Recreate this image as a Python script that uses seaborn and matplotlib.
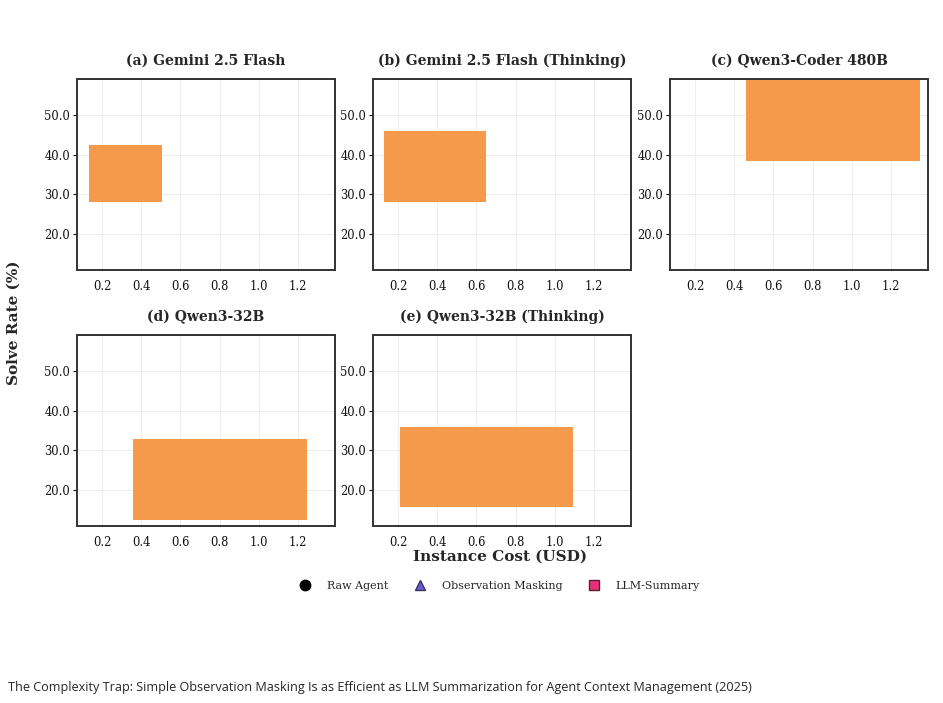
import seaborn as sns
import matplotlib.pyplot as plt
from matplotlib.lines import Line2D

# panel titles
titles = ['(a) Gemini 2.5 Flash', '(b) Gemini 2.5 Flash (Thinking)', '(c) Qwen3-Coder 480B',
          '(d) Qwen3-32B', '(e) Qwen3-32B (Thinking)']

# shaded region per model: cost range and solve-rate range
cost_lo = [0.134, 0.127, 0.46, 0.36, 0.21]
cost_hi = [0.506, 0.651, 1.346, 1.245, 1.095]
rate_lo = [28.2, 28.2, 38.3, 12.6, 15.7]
rate_hi = [42.5, 45.9, 60.0, 32.9, 35.9]

x_ticks = [0.2, 0.4, 0.6, 0.8, 1.0, 1.2]
y_ticks = [20, 30, 40, 50]

legend_labels = ['Raw Agent', 'Observation Masking', 'LLM-Summary']

sns.set_style('whitegrid')
plt.rcParams['font.family'] = ['DejaVu Serif']

fig = plt.figure(figsize=(9.43, 7.03), dpi=100)
W, H = 943, 703
# axes boxes in pixels: left, top
boxes = [(77, 79), (373, 79), (670, 79), (77, 335), (373, 335)]
aw, ah = 258, 191

for i, (l, t) in enumerate(boxes):
    ax = fig.add_axes([l / W, 1 - (t + ah) / H, aw / W, ah / H])
    ax.bar(cost_lo[i], rate_hi[i] - rate_lo[i], bottom=rate_lo[i],
           width=cost_hi[i] - cost_lo[i], align='edge', color='#f5994a',
           linewidth=0, zorder=2)
    ax.set_xlim(0.072, 1.389)
    ax.set_ylim(11, 59)
    ax.set_xticks(x_ticks)
    ax.set_yticks(y_ticks)
    ax.set_xticklabels([f'{v:.1f}' for v in x_ticks])
    ax.set_yticklabels([f'{v:.1f}' for v in y_ticks])
    ax.tick_params(labelsize=8.3, colors='#111111', length=3, width=0.8,
                   left=True, bottom=False, pad=2)
    ax.tick_params(axis='x', pad=4)
    ax.grid(True, color='#ebebeb', linewidth=0.6, zorder=0)
    for s in ax.spines.values():
        s.set_color('#333333')
        s.set_linewidth(1.4)
    ax.set_title(titles[i], fontsize=10, fontweight='bold', pad=10)

fig.text(500 / W, 1 - 557 / H, 'Instance Cost (USD)', ha='center', va='center',
         fontsize=11, fontweight='bold')
fig.text(14 / W, 1 - 323 / H, 'Solve Rate (%)', ha='center', va='center',
         rotation=90, fontsize=11, fontweight='bold')

handles = [
    Line2D([], [], marker='o', linestyle='', color='black', markersize=7.5),
    Line2D([], [], marker='^', linestyle='', markerfacecolor='#6a5acd',
           markeredgecolor='#333366', markersize=7.5),
    Line2D([], [], marker='s', linestyle='', markerfacecolor='#e8307a',
           markeredgecolor='#552233', markersize=7.5),
]
fig.legend(handles, legend_labels, loc='center', bbox_to_anchor=(497 / W, 1 - 586 / H),
           ncol=3, frameon=False, fontsize=8, handletextpad=1.0, columnspacing=1.8)

fig.text(8 / W, 1 - 688 / H,
         'The Complexity Trap: Simple Observation Masking Is as Efficient as LLM Summarization for Agent Context Management (2025)',
         ha='left', va='center', fontsize=9.1, family=['Open Sans', 'DejaVu Sans'])

fig.savefig('out.png', dpi=100, facecolor='white')
